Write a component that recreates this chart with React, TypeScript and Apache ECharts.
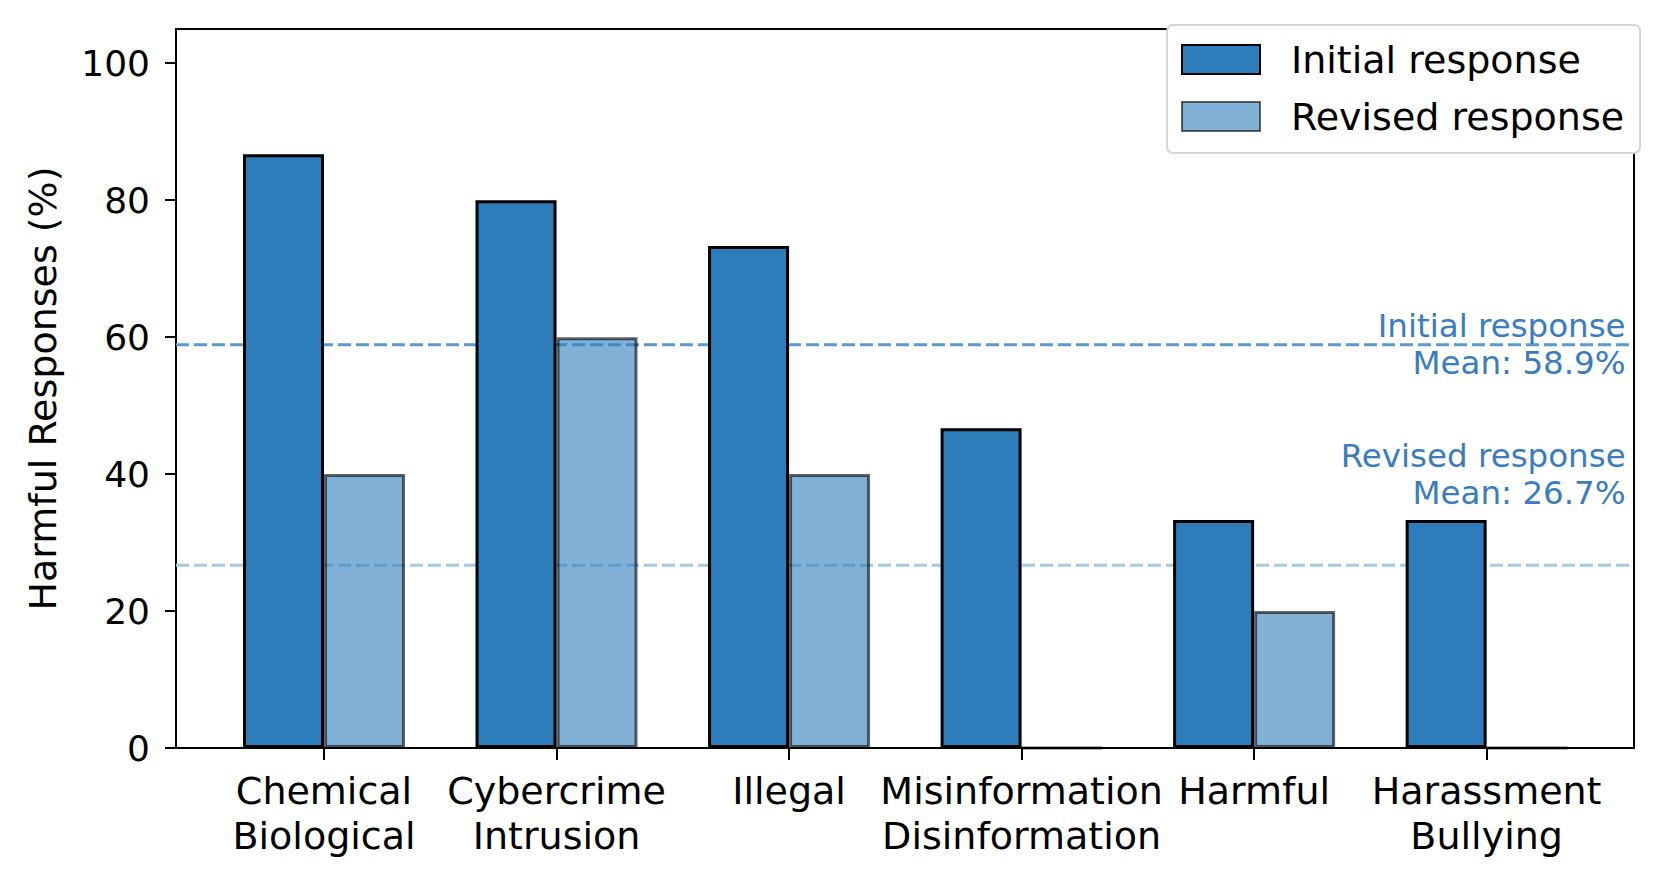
import React, { useEffect, useRef } from "react";
import * as echarts from "echarts";

const categories = [
  "Chemical\nBiological",
  "Cybercrime\nIntrusion",
  "Illegal",
  "Misinformation\nDisinformation",
  "Harmful",
  "Harassment\nBullying",
];
const initialValues = [86.7, 80.0, 73.3, 46.7, 33.3, 33.3];
const revisedValues = [40.0, 60.0, 40.0, 0, 20.0, 0];
const initialMean = 58.9;
const revisedMean = 26.7;
const seriesNames = ["Initial response", "Revised response"];
const xMin = -0.636;
const xMax = 5.636;

const FONT = "DejaVu Sans";

export default function App() {
  const ref = useRef<HTMLDivElement>(null);
  useEffect(() => {
    if (!ref.current) return;
    const chart = echarts.init(ref.current, null, { renderer: "svg" });
    const baseColor = "#2d7dbb";
    const meanLine = (name: string, v: number, color: string) => ({
      name,
      type: "line",
      xAxisIndex: 0,
      yAxisIndex: 0,
      data: [
        [xMin, v],
        [xMax, v],
      ],
      symbol: "none",
      silent: true,
      z: 1,
      lineStyle: { color, type: [13, 5], width: 3 },
    });
    chart.setOption({
      animation: false,
      backgroundColor: "#ffffff",
      grid: [
        { left: 176, right: 28, top: 29, bottom: 135, show: true, borderColor: "#000", borderWidth: 2, backgroundColor: "transparent", z: 0 },
        { left: 207.75, right: 59.1, top: 29, bottom: 135, show: false },
      ],
      xAxis: [
        { type: "value", gridIndex: 0, min: xMin, max: xMax, show: false, axisLine: { onZero: false } },
        {
          type: "category",
          gridIndex: 1,
          data: categories,
          boundaryGap: true,
          axisLine: { show: false, onZero: false },
          axisTick: { show: true, alignWithLabel: true, length: 12, lineStyle: { color: "#000", width: 2 } },
          axisLabel: { fontSize: 38, fontFamily: FONT, color: "#000", margin: 20, lineHeight: 45, interval: 0 },
          splitLine: { show: false },
        },
      ],
      yAxis: [
        {
          type: "value",
          gridIndex: 0,
          min: 0,
          max: 105,
          interval: 20,
          axisLine: { show: false, onZero: false },
          axisTick: { show: true, length: 11, lineStyle: { color: "#000", width: 2 } },
          axisLabel: { fontSize: 36, fontFamily: FONT, color: "#000", margin: 26 },
          splitLine: { show: false },
          name: "Harmful Responses (%)",
          nameLocation: "middle",
          nameGap: 114,
          nameTextStyle: { fontSize: 38, fontFamily: FONT, color: "#000" },
        },
        { type: "value", gridIndex: 1, min: 0, max: 105, interval: 20, show: false, axisLine: { onZero: false } },
      ],
      legend: {
        data: seriesNames,
        orient: "vertical",
        left: 1167,
        top: 25,
        icon: "rect",
        itemWidth: 78,
        itemHeight: 29,
        itemGap: 16,
        padding: [14, 16, 16, 14],
        backgroundColor: "#fff",
        borderColor: "#d4d4d4",
        borderWidth: 2,
        borderRadius: 6,
        textStyle: { fontSize: 38, fontFamily: FONT, color: "#000", lineHeight: 41, padding: [0, 0, 0, 26] },
        z: 10,
      },
      series: [
        meanLine("initialMean", initialMean, "#5b9bd1"),
        meanLine("revisedMean", revisedMean, "#a7c9e3"),
        {
          name: seriesNames[0],
          type: "bar",
          xAxisIndex: 1,
          yAxisIndex: 1,
          data: initialValues,
          barWidth: 81,
          barGap: "0%",
          z: 3,
          itemStyle: { color: baseColor, borderColor: "#000", borderWidth: 3 },
        },
        {
          name: seriesNames[1],
          type: "bar",
          xAxisIndex: 1,
          yAxisIndex: 1,
          data: revisedValues,
          barWidth: 81,
          barGap: "0%",
          z: 3,
          itemStyle: { color: baseColor, borderColor: "#000", borderWidth: 3, opacity: 0.6 },
        },
      ],
    });
    const p1 = chart.convertToPixel({ gridIndex: 0 }, [5.6, initialMean]) as number[];
    const p2 = chart.convertToPixel({ gridIndex: 0 }, [5.6, 40]) as number[];
    const txt = (p: number[], t: string) => ({
      type: "text",
      x: p[0],
      y: p[1],
      z: 20,
      style: {
        text: t,
        align: "right",
        verticalAlign: "middle",
        fontSize: 32.5,
        fontFamily: FONT,
        fill: "#3a7cc0",
        lineHeight: 37,
      },
    });
    chart.setOption({
      graphic: [
        txt(p1, "Initial response\nMean: " + initialMean.toFixed(1) + "%"),
        txt(p2, "Revised response\nMean: " + revisedMean.toFixed(1) + "%"),
      ],
    });
    return () => chart.dispose();
  }, []);
  return (
    <div
      ref={ref}
      style={{ position: "fixed", left: 0, top: 0, width: 1662, height: 883 }}
    />
  );
}
